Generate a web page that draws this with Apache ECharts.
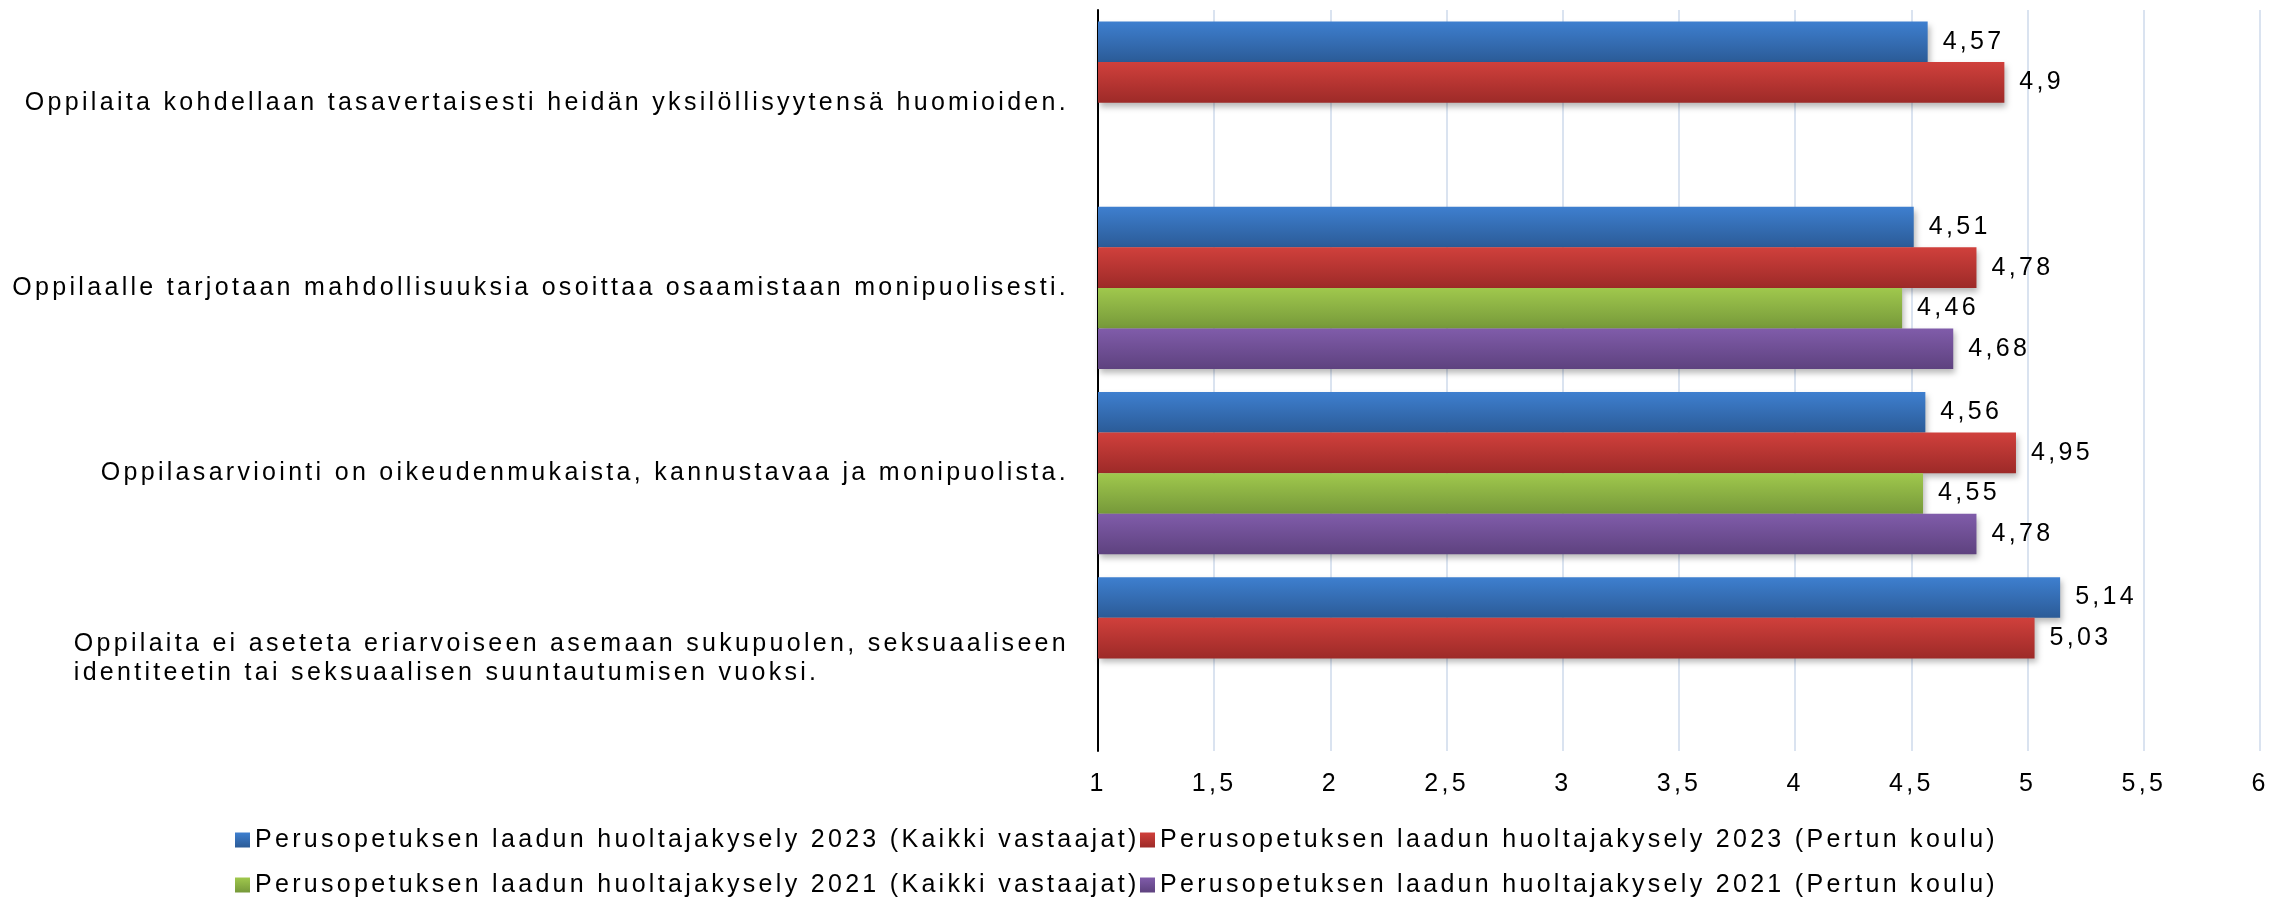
<!DOCTYPE html>
<html>
<head>
<meta charset="utf-8">
<script src="https://cdn.jsdelivr.net/npm/echarts@6/dist/echarts.min.js"></script>
<style>
  html, body { margin: 0; padding: 0; background: #fff; }
  #chart { width: 2269px; height: 898px; }
</style>
</head>
<body>
<div id="chart"></div>
<script>
// the original texts are spaced out, canvas can do that when the font is set
var fontDesc = Object.getOwnPropertyDescriptor(CanvasRenderingContext2D.prototype, 'font');
Object.defineProperty(CanvasRenderingContext2D.prototype, 'font', {
    get: function () { return fontDesc.get.call(this); },
    set: function (v) {
        fontDesc.set.call(this, v);
        if ('letterSpacing' in this) { this.letterSpacing = '3.3px'; }
    }
});

var categories = [
    'Oppilaita kohdellaan tasavertaisesti heidän yksilöllisyytensä huomioiden.',
    'Oppilaalle tarjotaan mahdollisuuksia osoittaa osaamistaan monipuolisesti.',
    'Oppilasarviointi on oikeudenmukaista, kannustavaa ja monipuolista.',
    'Oppilaita ei aseteta eriarvoiseen asemaan sukupuolen, seksuaaliseen\nidentiteetin tai seksuaalisen suuntautumisen vuoksi.'
];

var seriesNames = [
    'Perusopetuksen laadun huoltajakysely 2023 (Kaikki vastaajat)',
    'Perusopetuksen laadun huoltajakysely 2023 (Pertun koulu)',
    'Perusopetuksen laadun huoltajakysely 2021 (Kaikki vastaajat)',
    'Perusopetuksen laadun huoltajakysely 2021 (Pertun koulu)'
];

var kaikki2023 = [4.57, 4.51, 4.56, 5.14];
var pertun2023 = [4.9, 4.78, 4.95, 5.03];
var kaikki2021 = [null, 4.46, 4.55, null];
var pertun2021 = [null, 4.68, 4.78, null];

var xMin = 1, xMax = 6, xStep = 0.5;

// top / bottom of the excel style gradient
var colors = [
    ['#3e7fcf', '#2b5b97'],
    ['#d0403c', '#9d2a28'],
    ['#a0c84d', '#76993a'],
    ['#805caa', '#5e427f']
];

var FONT = 'Liberation Sans, Arial, sans-serif';

function comma(v) {
    return String(v).replace('.', ',');
}

function grad(c) {
    return new echarts.graphic.LinearGradient(0, 0, 0, 1, [
        { offset: 0, color: c[0] },
        { offset: 1, color: c[1] }
    ]);
}

var values = [kaikki2023, pertun2023, kaikki2021, pertun2021];

var series = values.map(function (data, i) {
    return {
        name: seriesNames[i],
        type: 'bar',
        data: data,
        barGap: '0%',
        barCategoryGap: '12.5%',
        itemStyle: {
            color: grad(colors[i]),
            shadowColor: 'rgba(0,0,0,0.28)',
            shadowBlur: 6,
            shadowOffsetX: 2,
            shadowOffsetY: 4
        },
        label: {
            show: true,
            position: 'right',
            distance: 15,
            color: '#000',
            fontFamily: FONT,
            fontSize: 25,
            formatter: function (p) { return comma(p.value); }
        }
    };
});

var legendLeft = [235, 1140, 235, 1140];
var legendTop = [825, 825, 870, 870];

var legends = seriesNames.map(function (name, i) {
    return {
        data: [name],
        left: legendLeft[i],
        top: legendTop[i],
        icon: 'rect',
        itemWidth: 15,
        itemHeight: 15,
        padding: 0,
        textStyle: {
            color: '#000',
            fontFamily: FONT,
            fontSize: 25,
            lineHeight: 30
        }
    };
});

var chart = echarts.init(document.getElementById('chart'));

chart.setOption({
    animation: false,
    backgroundColor: '#fff',
    grid: {
        left: 1098,
        right: 9,
        top: 10,
        bottom: 147,
        containLabel: false,
        outerBoundsMode: 'none'
    },
    legend: legends,
    xAxis: {
        type: 'value',
        min: xMin,
        max: xMax,
        interval: xStep,
        axisLine: { show: false },
        axisTick: { show: false },
        splitLine: {
            show: true,
            lineStyle: { color: '#dae3f0', width: 2 }
        },
        axisLabel: {
            color: '#000',
            fontFamily: FONT,
            fontSize: 25,
            lineHeight: 25,
            margin: 21,
            formatter: function (v) { return comma(v); }
        }
    },
    yAxis: {
        type: 'category',
        inverse: true,
        data: categories,
        axisTick: { show: false },
        axisLine: {
            show: true,
            lineStyle: { color: '#000', width: 2 }
        },
        splitLine: { show: false },
        axisLabel: {
            margin: 29,
            align: 'right',
            formatter: function (v) {
                return v.split('\n').map(function (s) { return '{l|' + s + '}'; }).join('\n');
            },
            rich: {
                l: {
                    align: 'left',
                    color: '#000',
                    fontFamily: FONT,
                    fontSize: 25,
                    lineHeight: 29
                }
            }
        }
    },
    series: series
});
</script>
</body>
</html>
